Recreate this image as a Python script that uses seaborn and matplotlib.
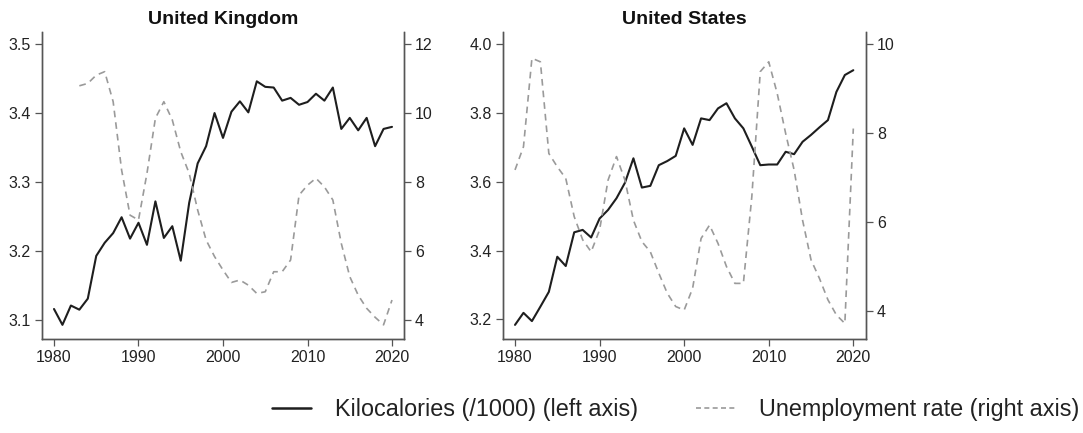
import matplotlib
matplotlib.use("Agg")
import matplotlib.pyplot as plt
from matplotlib.lines import Line2D
import seaborn as sns
import pandas as pd
import numpy as np

years = list(range(1980, 2021))

uk_kcal = [3.116, 3.093, 3.121, 3.115, 3.131, 3.193, 3.212, 3.226, 3.249, 3.218,
           3.241, 3.209, 3.272, 3.219, 3.236, 3.186, 3.270, 3.327, 3.352, 3.400,
           3.364, 3.402, 3.417, 3.401, 3.446, 3.438, 3.437, 3.418, 3.422, 3.412,
           3.416, 3.428, 3.418, 3.437, 3.377, 3.393, 3.375, 3.393, 3.352, 3.377,
           3.380]

uk_unemp_years = list(range(1983, 2021))
uk_unemp = [10.79, 10.86, 11.10, 11.20, 10.33, 8.35, 7.04, 6.90, 8.25, 9.85,
            10.33, 9.80, 8.88, 8.25, 7.19, 6.32, 5.84, 5.45, 5.09, 5.16,
            5.01, 4.77, 4.82, 5.40, 5.40, 5.74, 7.62, 7.91, 8.11, 7.86,
            7.48, 6.22, 5.26, 4.72, 4.34, 4.08, 3.86, 4.58]

us_kcal = [3.184, 3.219, 3.195, 3.237, 3.280, 3.382, 3.355, 3.453, 3.460, 3.438,
           3.493, 3.518, 3.552, 3.597, 3.668, 3.583, 3.588, 3.648, 3.660, 3.675,
           3.755, 3.707, 3.784, 3.779, 3.813, 3.828, 3.784, 3.755, 3.702, 3.648,
           3.650, 3.650, 3.687, 3.680, 3.716, 3.736, 3.758, 3.779, 3.861, 3.910,
           3.924]

us_unemp = [7.17, 7.69, 9.68, 9.60, 7.54, 7.24, 6.98, 6.12, 5.60, 5.33,
            5.82, 6.94, 7.47, 6.94, 6.04, 5.56, 5.33, 4.85, 4.40, 4.10,
            4.02, 4.51, 5.63, 5.93, 5.52, 5.00, 4.62, 4.62, 6.57, 9.38,
            9.60, 8.89, 7.99, 7.17, 6.04, 5.15, 4.73, 4.25, 3.91, 3.72,
            8.10]

titles = ["United Kingdom", "United States"]
x_ticks = [1980, 1990, 2000, 2010, 2020]
uk_left_ticks = [3.1, 3.2, 3.3, 3.4, 3.5]
uk_right_ticks = [4, 6, 8, 10, 12]
us_left_ticks = [3.2, 3.4, 3.6, 3.8, 4.0]
us_right_ticks = [4, 6, 8, 10]
legend_labels = ["Kilocalories (/1000) (left axis)", "Unemployment rate (right axis)"]

sns.set_style("white")
plt.rcParams['font.family'] = ['Liberation Sans', 'DejaVu Sans']

SOLID = "#1e1e1e"
DASH = "#9a9a9a"
SPINE = "#555555"

fig = plt.figure(figsize=(10.83, 4.33), dpi=100)

panels = [
    dict(pos=[42/1083, 94/433, 362/1083, 307/433], kx=years, k=uk_kcal,
         ux=uk_unemp_years, u=uk_unemp, lt=uk_left_ticks, rt=uk_right_ticks,
         ly=(3.0725, 3.5175), ry=(3.45, 12.35), xl=(1978.58, 2021.42), ltf="{:.1f}"),
    dict(pos=[503/1083, 94/433, 363/1083, 307/433], kx=years, k=us_kcal,
         ux=years, u=us_unemp, lt=us_left_ticks, rt=us_right_ticks,
         ly=(3.143, 4.035), ry=(3.37, 10.27), xl=(1978.58, 2021.5), ltf="{:.1f}"),
]

for p, title in zip(panels, titles):
    ax = fig.add_axes(p["pos"])
    ax2 = ax.twinx()
    dfk = pd.DataFrame({"year": p["kx"], "kcal": p["k"]})
    dfu = pd.DataFrame({"year": p["ux"], "unemp": p["u"]})
    sns.lineplot(data=dfk, x="year", y="kcal", ax=ax, color=SOLID, lw=1.5)
    sns.lineplot(data=dfu, x="year", y="unemp", ax=ax2, color=DASH, lw=1.2,
                 linestyle=(0, (4, 3)))
    ax.set_xlim(*p["xl"])
    ax.set_ylim(*p["ly"])
    ax2.set_ylim(*p["ry"])
    ax.set_xticks(x_ticks)
    ax.set_yticks(p["lt"])
    ax.set_yticklabels([p["ltf"].format(v) for v in p["lt"]])
    ax2.set_yticks(p["rt"])
    ax.set_xlabel("")
    ax.set_ylabel("")
    ax2.set_ylabel("")
    for a in (ax, ax2):
        a.spines["top"].set_visible(False)
        for s in ("left", "right", "bottom"):
            a.spines[s].set_color(SPINE)
            a.spines[s].set_linewidth(1.0)
        a.tick_params(axis="both", which="both", length=5, width=0.9,
                      color=SPINE, labelsize=11.5, labelcolor="#222222", pad=3)
    ax.tick_params(left=True, bottom=True)
    ax2.tick_params(right=True)
    ax.set_title(title, fontsize=14, fontweight="bold", color="#111111", pad=6)

handles = [Line2D([], [], color=SOLID, lw=1.8),
           Line2D([], [], color=DASH, lw=1.2, linestyle=(0, (3, 2)))]
fig.legend(handles, legend_labels, loc="center", bbox_to_anchor=(0.6237, 0.055),
           ncol=2, frameon=False, fontsize=16.8, handlelength=1.7,
           columnspacing=2.5, handletextpad=1.0, labelcolor="#222222")

fig.savefig("out.png", dpi=100, facecolor="white")
